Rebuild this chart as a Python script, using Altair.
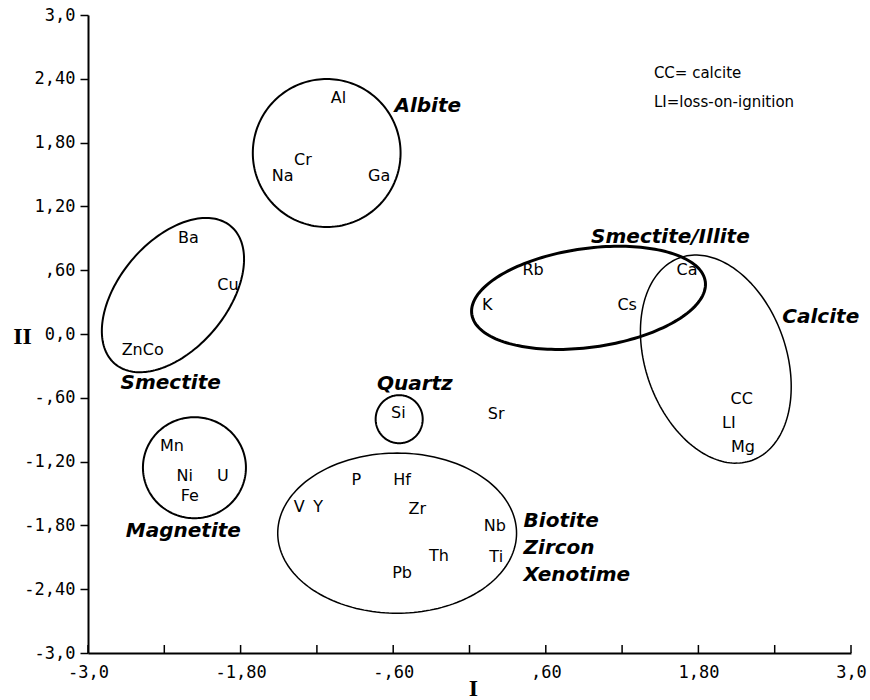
import numpy as np
import pandas as pd
import altair as alt

# ---------------- data ----------------
# element labels (data coordinates: factor I, factor II)
elem_names = ["Al", "Cr", "Na", "Ga", "Ba", "Cu", "ZnCo", "Mn", "Ni", "U", "Fe",
              "Si", "Sr", "P", "Hf", "V", "Y", "Zr", "Nb", "Ti", "Th", "Pb",
              "Rb", "K", "Cs", "Ca", "CC", "LI", "Mg"]
elem_x = [-1.03, -1.31, -1.47, -0.71, -2.21, -1.90, -2.57, -2.34, -2.24, -1.94, -2.20,
          -0.56, 0.21, -0.89, -0.53, -1.34, -1.19, -0.41, 0.20, 0.21, -0.24, -0.53,
          0.50, 0.14, 1.24, 1.71, 2.14, 2.04, 2.15]
elem_y = [2.22, 1.64, 1.49, 1.49, 0.90, 0.46, -0.15, -1.05, -1.34, -1.34, -1.52,
          -0.74, -0.75, -1.37, -1.37, -1.63, -1.63, -1.65, -1.81, -2.10, -2.09, -2.25,
          0.60, 0.27, 0.27, 0.60, -0.61, -0.84, -1.06]

# mineral group labels
min_names = ["Albite", "Smectite", "Magnetite", "Quartz", "Smectite/Illite",
             "Calcite", "Biotite", "Zircon", "Xenotime"]
min_x = [-0.59, -2.35, -2.25, -0.43, 1.58, 2.46, 0.425, 0.425, 0.425]
min_y = [2.14, -0.46, -1.85, -0.47, 0.91, 0.16, -1.76, -2.01, -2.27]
min_align = ["left", "center", "center", "center", "center", "left", "left", "left", "left"]

# group ellipses: centre and two conjugate semi-axis vectors (data units)
ell_names = ["Albite", "Smectite", "Magnetite", "Quartz", "Biotite", "Smectite/Illite", "Calcite"]
ell_cx = [-1.123, -2.332, -2.163, -0.553, -0.569, 0.936, 1.937]
ell_cy = [1.702, 0.366, -1.257, -0.801, -1.873, 0.340, -0.236]
ell_ux = [0.581, 0.455, 0.405, 0.185, 0.939, 0.918, 0.283]
ell_uy = [0.0, 0.648, 0.0, 0.0, 0.0, 0.154, -0.953]
ell_vx = [0.0, 0.325, 0.0, 0.0, 0.0, 0.055, 0.521]
ell_vy = [0.696, -0.326, 0.475, 0.226, 0.753, -0.460, 0.222]
ell_sw = [2.0, 2.0, 2.0, 2.0, 1.5, 3.0, 1.5]

# notes
note_text = ["CC= calcite", "LI=loss-on-ignition"]
note_x = [1.45, 1.45]
note_y = [2.45, 2.18]

# axes
tick_vals = [-3.0, -2.4, -1.8, -1.2, -0.6, 0.0, 0.6, 1.2, 1.8, 2.4, 3.0]
x_lab_vals = [-3.0, -1.8, -0.6, 0.6, 1.8, 3.0]
x_lab_text = ["-3,0", "-1,80", "-,60", ",60", "1,80", "3,0"]
y_lab_vals = tick_vals
y_lab_text = ["-3,0", "-2,40", "-1,80", "-1,20", "-,60", "0,0", ",60", "1,20", "1,80", "2,40", "3,0"]

# ---------------- tables ----------------
t = np.linspace(0, 2 * np.pi, 181)
rows = []
for i, n in enumerate(ell_names):
    for k, tt in enumerate(t):
        rows.append({
            "name": n, "k": k, "sw": ell_sw[i],
            "x": ell_cx[i] + ell_ux[i] * np.cos(tt) + ell_vx[i] * np.sin(tt),
            "y": ell_cy[i] + ell_uy[i] * np.cos(tt) + ell_vy[i] * np.sin(tt),
        })
ell_df = pd.DataFrame(rows)
elem_df = pd.DataFrame({"label": elem_names, "x": elem_x, "y": elem_y})
min_df = pd.DataFrame({"label": min_names, "x": min_x, "y": min_y, "align": min_align})
note_df = pd.DataFrame({"label": note_text, "x": note_x, "y": note_y})
tick_df = pd.DataFrame({"x": tick_vals})


def label_expr(vals, labs):
    expr = "''"
    for v, l in zip(reversed(vals), reversed(labs)):
        expr = f"round(datum.value*10) == {int(round(v * 10))} ? '{l}' : " + expr
    return expr


W, H = 763, 638
xscale = alt.Scale(domain=[-3, 3], nice=False, zero=False)
yscale = alt.Scale(domain=[-3, 3], nice=False, zero=False)

xaxis = alt.Axis(values=x_lab_vals, labelExpr=label_expr(x_lab_vals, x_lab_text),
                 ticks=False, grid=False, domainColor="black", domainWidth=2,
                 labelFont="DejaVu Sans Mono", labelFontSize=17, labelColor="black",
                 labelPadding=11, labelFlush=False,
                 titleFont="Liberation Serif", titleFontSize=24, titleFontWeight="bold",
                 titleColor="black", titleX=385, titleY=35, titleBaseline="middle")
yaxis = alt.Axis(values=y_lab_vals, labelExpr=label_expr(y_lab_vals, y_lab_text),
                 ticks=True, tickSize=8, tickWidth=1.5, tickColor="black", grid=False,
                 domainColor="black", domainWidth=2,
                 labelFont="DejaVu Sans Mono", labelFontSize=17, labelColor="black",
                 labelPadding=5, labelFlush=False,
                 titleFont="Liberation Serif", titleFontSize=24, titleFontWeight="bold",
                 titleColor="black", titleAngle=0, titleX=-66, titleY=321,
                 titleAlign="center", titleBaseline="middle")

X = alt.X("x:Q", scale=xscale, axis=xaxis, title="I")
Y = alt.Y("y:Q", scale=yscale, axis=yaxis, title="II")

ellipses = alt.Chart(ell_df).mark_line(color="black").encode(
    x=X, y=Y, detail="name:N", order="k:Q",
    strokeWidth=alt.StrokeWidth("sw:Q", scale=None, legend=None))

inner_ticks = alt.Chart(tick_df).mark_rule(color="black", strokeWidth=1.5).encode(
    x=X, y=alt.value(H), y2=alt.value(H - 8))

elems = alt.Chart(elem_df).mark_text(font="DejaVu Sans", fontSize=16, color="black",
                                     align="center", baseline="middle").encode(
    x=X, y=Y, text="label:N")

min_left = alt.Chart(min_df).transform_filter("datum.align == 'left'").mark_text(
    font="DejaVu Sans", fontSize=20, fontStyle="italic", fontWeight="bold", color="black",
    align="left", baseline="middle").encode(x=X, y=Y, text="label:N")
min_center = alt.Chart(min_df).transform_filter("datum.align == 'center'").mark_text(
    font="DejaVu Sans", fontSize=20, fontStyle="italic", fontWeight="bold", color="black",
    align="center", baseline="middle").encode(x=X, y=Y, text="label:N")

notes = alt.Chart(note_df).mark_text(font="DejaVu Sans", fontSize=15, color="black",
                                     align="left", baseline="middle").encode(
    x=X, y=Y, text="label:N")

chart = alt.layer(ellipses, inner_ticks, elems, min_left, min_center, notes).properties(
    width=W, height=H,
    autosize=alt.AutoSizeParams(type="none"),
    padding={"left": 88, "top": 15, "right": 19, "bottom": 47},
    background="white",
).configure_view(stroke=None)

chart.save("out.html", embed_options={"renderer": "svg", "actions": False})
